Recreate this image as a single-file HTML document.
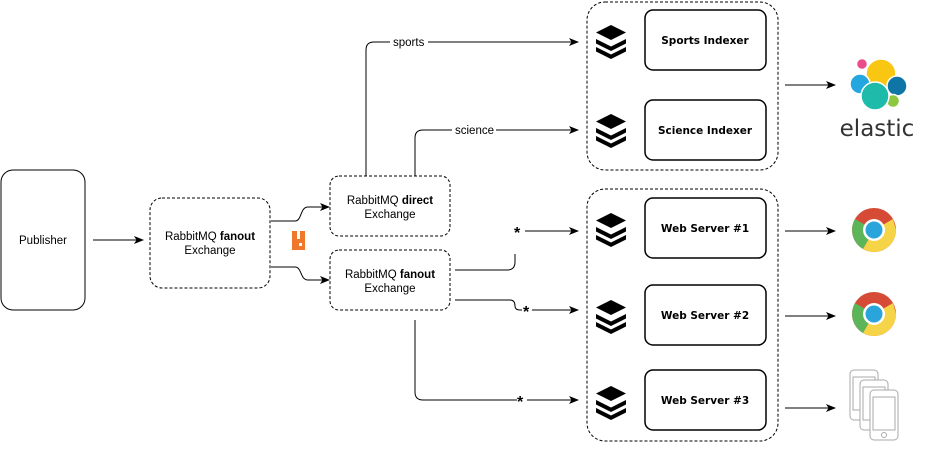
<!DOCTYPE html>
<html><head><meta charset="utf-8"><style>
html,body{margin:0;padding:0;background:#fff;}
svg{display:block;}
.t{font-family:"Liberation Sans",sans-serif;font-size:11.5px;fill:#000;}
.m{font-family:"DejaVu Sans",sans-serif;font-size:10.5px;font-weight:bold;fill:#000;}
</style></head><body>
<svg width="926" height="451" viewBox="0 0 926 451" xmlns="http://www.w3.org/2000/svg">
<defs>
<marker id="a" markerWidth="10" markerHeight="8" refX="9" refY="4" orient="auto" markerUnits="userSpaceOnUse">
<path d="M0,0 L10,4 L0,8 L2.5,4 Z" fill="#000"/></marker>
<g id="lay">
<path d="M0,-16 L15,-8.5 L0,-1 L-15,-8.5 Z" fill="#000"/>
<path d="M-15,-2 L0,5.5 L15,-2 L15,2.5 L0,10 L-15,2.5 Z" fill="#000"/>
<path d="M-15,6 L0,13.5 L15,6 L15,10.5 L0,18 L-15,10.5 Z" fill="#000"/>
</g>
<g id="chrome">
<circle r="22" fill="#d64b36"/>
<path d="M0,0 L-19,-11 A22,22 0 0 0 -11,19 Z" fill="#5db559"/>
<path d="M0,0 L-11,19 A22,22 0 0 0 22,0 L19,-11 Z" fill="#f6d448"/>
<circle r="11" fill="#fff"/><circle r="8.5" fill="#2aa5dc"/>
</g>
<g id="phone" fill="#fff" stroke="#aaa" stroke-width="1">
<rect x="0" y="0" width="28" height="50" rx="4"/>
<rect x="3" y="7" width="22" height="33"/>
<circle cx="14" cy="45" r="2.5"/>
</g>
</defs>

<g fill="none" stroke="#000" stroke-width="1">
<rect x="1" y="170" width="84" height="140" rx="12"/>
<g stroke-dasharray="3,2">
<rect x="150" y="198" width="120" height="90" rx="12"/>
<rect x="330" y="176" width="120" height="60" rx="9"/>
<rect x="330" y="250" width="120" height="60" rx="9"/>
<rect x="587" y="2" width="191" height="168" rx="18"/>
<rect x="587" y="189" width="191" height="252" rx="18"/>
</g>
<rect x="645" y="10" width="121" height="60" rx="8" stroke-width="1.5"/>
<rect x="645" y="100" width="121" height="60" rx="8" stroke-width="1.5"/>
<rect x="645" y="198" width="121" height="60" rx="8" stroke-width="1.5"/>
<rect x="645" y="285" width="121" height="60" rx="8" stroke-width="1.5"/>
<rect x="645" y="370" width="121" height="60" rx="8" stroke-width="1.5"/>

<path d="M93,240 H143" marker-end="url(#a)"/>
<path d="M271,221 H295 C302,221 300,207 308,207 H329" marker-end="url(#a)"/>
<path d="M271,267 H295 C302,267 300,280 308,280 H329" marker-end="url(#a)"/>
<path d="M366,176 V50 Q366,42 374,42 H578" marker-end="url(#a)"/>
<path d="M415,176 V138 Q415,130 423,130 H578" marker-end="url(#a)"/>
<path d="M455,270 H507 Q515,270 515,262 V254"/>
<path d="M525,231 H578" marker-end="url(#a)"/>
<path d="M455,300 H510 Q515,300 515,306 Q515,310 520,310 H578" marker-end="url(#a)"/>
<path d="M415,320 V392 Q415,400 423,400 H578" marker-end="url(#a)"/>
<path d="M785,85 H835" marker-end="url(#a)"/>
<path d="M785,231 H835" marker-end="url(#a)"/>
<path d="M785,316 H835" marker-end="url(#a)"/>
<path d="M785,408 H835" marker-end="url(#a)"/>
</g>
<rect x="390" y="35" width="38" height="14" fill="#fff"/>
<rect x="452" y="123" width="44" height="14" fill="#fff"/>
<rect x="514" y="225" width="10" height="12" fill="#fff"/>
<rect x="522" y="304" width="10" height="12" fill="#fff"/>
<rect x="517" y="394" width="10" height="12" fill="#fff"/>
<text class="t" x="393" y="46">sports</text>
<text class="t" x="455" y="134">science</text>
<text class="t" x="514" y="238" style="font-size:16px;font-weight:bold">*</text>
<text class="t" x="523" y="317" style="font-size:16px;font-weight:bold">*</text>
<text class="t" x="517" y="407" style="font-size:16px;font-weight:bold">*</text>

<text class="t" x="43" y="244" text-anchor="middle">Publisher</text>
<text class="t" x="210" y="240" text-anchor="middle">RabbitMQ <tspan font-weight="bold">fanout</tspan></text>
<text class="t" x="210" y="254" text-anchor="middle">Exchange</text>
<text class="t" x="390" y="204" text-anchor="middle">RabbitMQ <tspan font-weight="bold">direct</tspan></text>
<text class="t" x="390" y="218" text-anchor="middle">Exchange</text>
<text class="t" x="390" y="278" text-anchor="middle">RabbitMQ <tspan font-weight="bold">fanout</tspan></text>
<text class="t" x="390" y="292" text-anchor="middle">Exchange</text>

<text class="m" x="705" y="44" text-anchor="middle">Sports Indexer</text>
<text class="m" x="705" y="134" text-anchor="middle">Science Indexer</text>
<text class="m" x="705" y="232" text-anchor="middle">Web Server #1</text>
<text class="m" x="705" y="319" text-anchor="middle">Web Server #2</text>
<text class="m" x="705" y="404" text-anchor="middle">Web Server #3</text>

<use href="#lay" x="611" y="41"/>
<use href="#lay" x="611" y="130"/>
<use href="#lay" x="611" y="229"/>
<use href="#lay" x="611" y="316"/>
<use href="#lay" x="611" y="402"/>

<!-- rabbitmq logo -->
<path d="M292,231 h5 v8 h3 v-8 h5 v19 h-13 Z" fill="#f0782a"/>
<rect x="299" y="243" width="3" height="3" fill="#fff"/>

<!-- elastic -->
<g stroke="#fff" stroke-width="1.5">
<circle cx="881" cy="74" r="15" fill="#f9c712"/>
<circle cx="862" cy="64" r="5.5" fill="#ea4c8b"/>
<circle cx="860" cy="84" r="10" fill="#24a7df"/>
<circle cx="897" cy="86" r="10" fill="#0e75a6"/>
<circle cx="893" cy="101" r="6.5" fill="#8dc63f"/>
<circle cx="875" cy="96" r="14" fill="#1fbbaa"/>
</g>
<text x="877" y="136" text-anchor="middle" font-family="DejaVu Sans,sans-serif" font-size="23" fill="#333">elastic</text>
<use href="#chrome" x="874" y="230"/>
<use href="#chrome" x="874" y="314"/>
<use href="#phone" x="850" y="370"/>
<use href="#phone" x="860" y="380"/>
<use href="#phone" x="870" y="390"/>
</svg>
</body></html>
